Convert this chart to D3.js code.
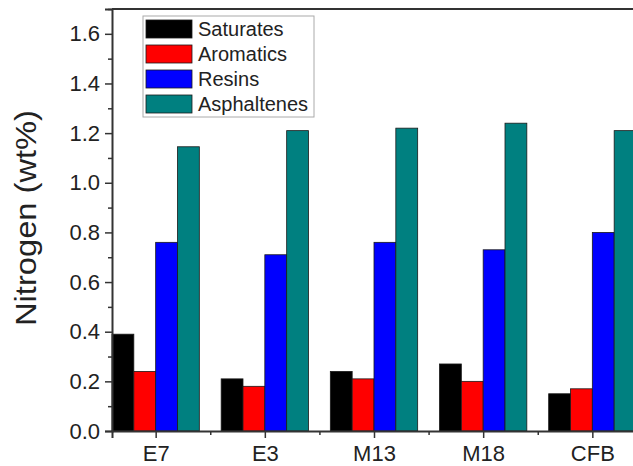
<!DOCTYPE html>
<html>
<head>
<meta charset="utf-8">
<script src="https://cdn.jsdelivr.net/npm/d3@7"></script>
<style>
  body { margin: 0; background: #fff; }
  svg { display: block; font-family: "Liberation Sans", Arial, sans-serif; }
</style>
</head>
<body>
<svg id="chart" width="633" height="466"></svg>
<script>
// Chart data
const samples = ["E7", "E3", "M13", "M18", "CFB"];
const fractions = ["Saturates", "Aromatics", "Resins", "Asphaltenes"];
const saturates = [0.39, 0.21, 0.24, 0.27, 0.15];
const aromatics = [0.24, 0.18, 0.21, 0.20, 0.17];
const resins = [0.76, 0.71, 0.76, 0.73, 0.80];
const asphaltenes = [1.145, 1.21, 1.22, 1.24, 1.21];
const yTicks = [0.0, 0.2, 0.4, 0.6, 0.8, 1.0, 1.2, 1.4, 1.6];

const seriesValues = [saturates, aromatics, resins, asphaltenes];
const colors = ["#000000", "#ff0000", "#0000ff", "#008080"];

const margin = { top: 9, right: -3, bottom: 35, left: 112 };
const width = 633 - margin.left - margin.right;
const height = 466 - margin.top - margin.bottom;
const fontFam = "Liberation Sans, Arial, sans-serif";

const svg = d3.select("#chart");
const g = svg.append("g")
  .attr("transform", `translate(${margin.left}, ${margin.top})`);

// Scales: categories sit at 1..5 on a numeric axis
const xScale = d3.scaleLinear().domain([0.6, 5.4]).range([0, width]);
const yScale = d3.scaleLinear().domain([0, 1.7]).range([height, 0]);
const barW = 0.2;

// Bars
fractions.forEach((name, si) => {
  g.selectAll(null)
    .data(seriesValues[si])
    .enter()
    .append("rect")
    .attr("x", (d, i) => xScale(i + 1 - 2 * barW + si * barW))
    .attr("y", d => yScale(d))
    .attr("width", xScale(barW) - xScale(0))
    .attr("height", d => yScale(0) - yScale(d))
    .attr("fill", colors[si])
    .attr("stroke", "#1a1a1a")
    .attr("stroke-width", 0.8);
});

// Y axis (major + minor ticks)
const yMinor = d3.range(0.1, 1.75, 0.2);
g.append("g")
  .call(d3.axisLeft(yScale).tickValues(yMinor).tickSize(4).tickFormat(""))
  .call(a => a.select(".domain").remove())
  .selectAll("line").attr("stroke", "#333").attr("stroke-width", 1.5);

const yAxis = g.append("g")
  .call(d3.axisLeft(yScale).tickValues(yTicks).tickSize(7).tickPadding(5)
    .tickFormat(d3.format(".1f")));
yAxis.select(".domain").attr("stroke", "#333").attr("stroke-width", 2);
yAxis.selectAll("line").attr("stroke", "#333").attr("stroke-width", 1.5);
yAxis.selectAll("text").attr("font-size", "22px").attr("fill", "#222")
  .attr("font-family", fontFam);

// X axis (major at samples, minor between)
g.append("g")
  .attr("transform", `translate(0, ${height})`)
  .call(d3.axisBottom(xScale).tickValues([1.5, 2.5, 3.5, 4.5]).tickSize(4).tickFormat(""))
  .call(a => a.select(".domain").remove())
  .selectAll("line").attr("stroke", "#333").attr("stroke-width", 1.5);

const xAxis = g.append("g")
  .attr("transform", `translate(0, ${height})`)
  .call(d3.axisBottom(xScale).tickValues([1, 2, 3, 4, 5]).tickSize(7).tickPadding(7)
    .tickFormat(d => samples[d - 1]));
xAxis.select(".domain").attr("stroke", "#333").attr("stroke-width", 2);
xAxis.selectAll("line").attr("stroke", "#333").attr("stroke-width", 1.5);
xAxis.selectAll("text").attr("font-size", "22px").attr("fill", "#222")
  .attr("font-family", fontFam);

// Top frame
g.append("line")
  .attr("x1", 0).attr("x2", width)
  .attr("y1", 0).attr("y2", 0)
  .attr("stroke", "#333").attr("stroke-width", 2);

// Y axis label
svg.append("text")
  .attr("transform", "rotate(-90)")
  .attr("x", -218)
  .attr("y", 36)
  .attr("text-anchor", "middle")
  .attr("font-size", "30px")
  .attr("textLength", 216)
  .attr("lengthAdjust", "spacingAndGlyphs")
  .attr("fill", "#222")
  .text("Nitrogen (wt%)");

// Legend
const legend = g.append("g").attr("transform", "translate(31, 7)");
legend.append("rect")
  .attr("width", 171).attr("height", 101)
  .attr("fill", "#fff")
  .attr("stroke", "#aaa").attr("stroke-width", 1);

fractions.forEach((name, i) => {
  const row = legend.append("g").attr("transform", `translate(3, ${4 + i * 25})`);
  row.append("rect")
    .attr("width", 46).attr("height", 18)
    .attr("fill", colors[i])
    .attr("stroke", "#1a1a1a").attr("stroke-width", 0.8);
  row.append("text")
    .attr("x", 52).attr("y", 16)
    .attr("font-size", "20px")
    .attr("fill", "#222")
    .text(name);
});
</script>
</body>
</html>
